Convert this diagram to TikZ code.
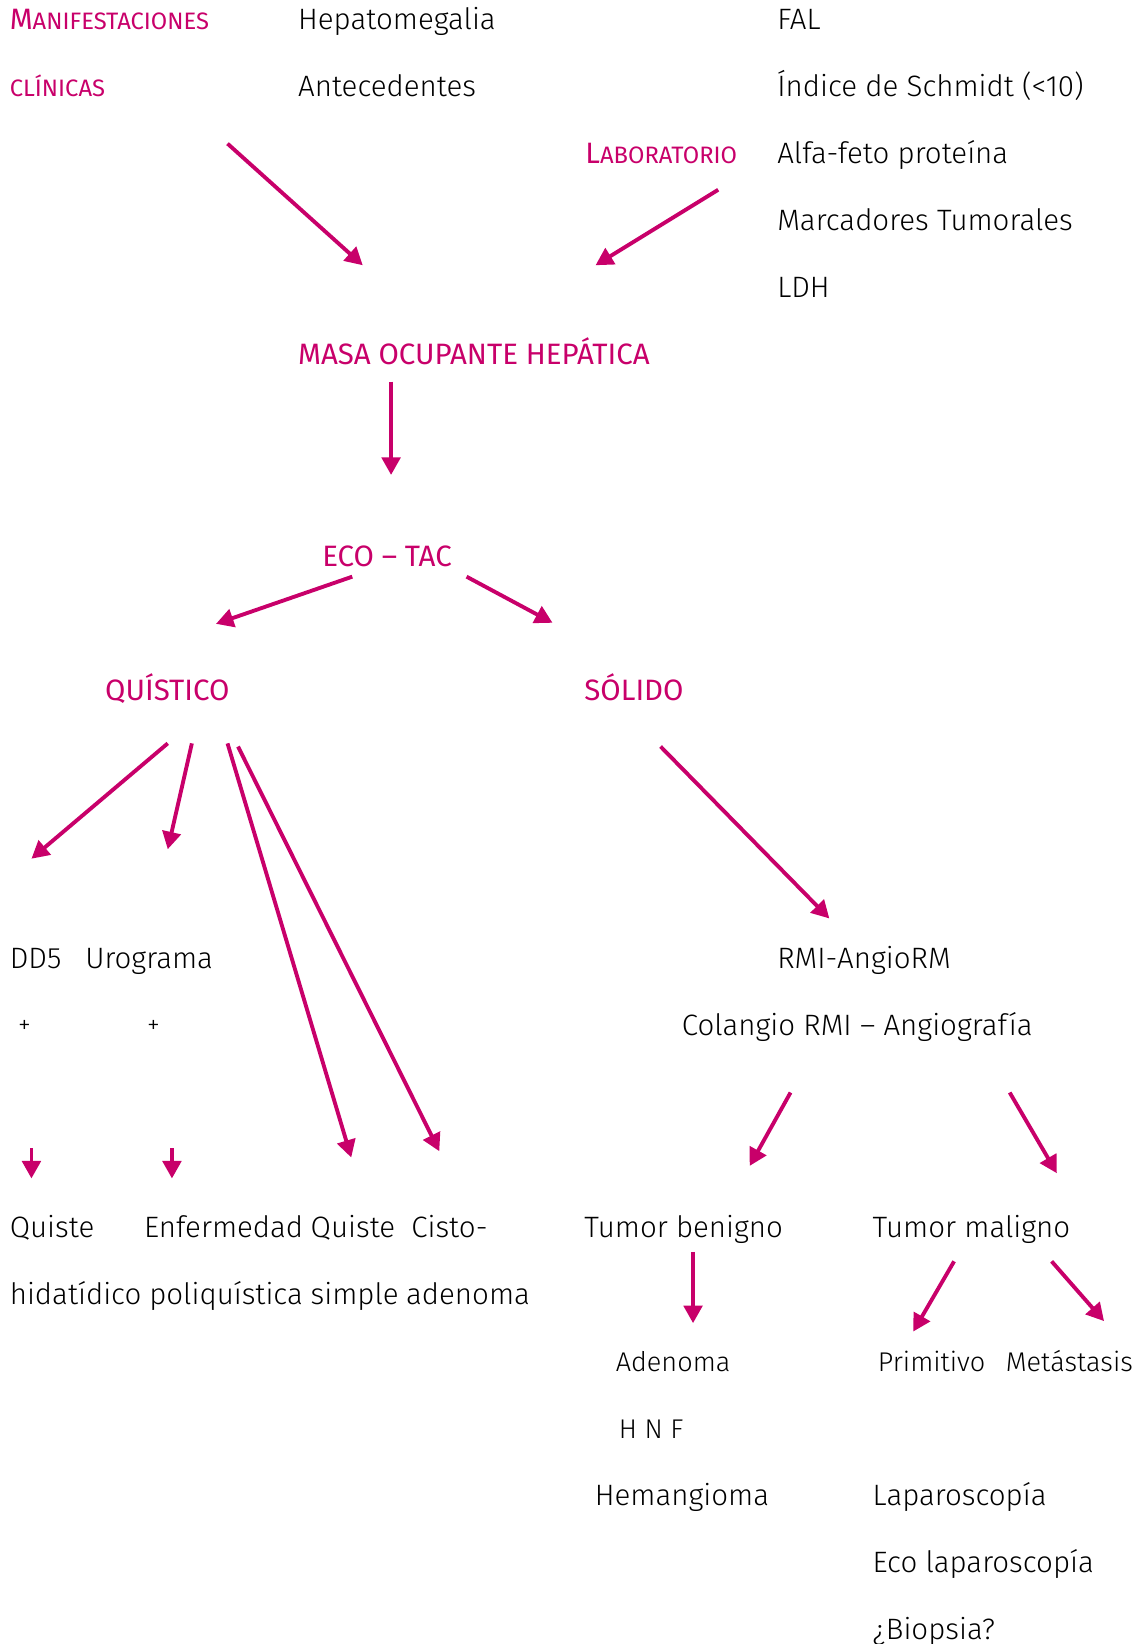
\documentclass[tikz,border=0pt]{standalone}
\usepackage{fontspec}
\setmainfont{Fira Sans Light}
\newfontfamily\firareg{Fira Sans}
\usetikzlibrary{arrows.meta}
\definecolor{mMag}{HTML}{C8006A}

\newcommand{\tam}{\fontsize{16pt}{18pt}\selectfont}
\newcommand{\pc}[1]{{\fontsize{12.9pt}{15pt}\selectfont #1}}

\begin{document}
\begin{tikzpicture}[x=0.02cm, y=-0.02cm, font=\tam,
    txt/.style={anchor=base west, inner sep=0pt},
    rosa/.style={txt, text=mMag, font=\tam\firareg},
    peq/.style={txt, font=\fontsize{14.7pt}{17pt}\selectfont},
    signo/.style={txt, font=\fontsize{14pt}{16pt}\selectfont},
    flecha/.style={draw=mMag, line width=2.1pt, -{Triangle[length=9.5pt, width=10pt]}}]
  \useasboundingbox (0,0) rectangle (1085,1568);

  % cabecera
  \node[rosa] (manif) at (9,28) {M\pc{ANIFESTACIONES}};
  \node[rosa] (clin) at (9,92) {\pc{CLÍNICAS}};
  \node[rosa] (lab) at (558,156) {L\pc{ABORATORIO}};
  \node[txt] (hepa) at (284,28) {Hepatomegalia};
  \node[txt] (ante) at (284,92) {Antecedentes};
  \foreach \t [count=\i from 0] in
    {FAL, Índice de Schmidt (<10), Alfa-feto proteína, Marcadores Tumorales, LDH} {
    \node[txt] (prueba\i) at (741,28+64*\i) {\t};
  }

  \node[rosa] (masa) at (284,348) {MASA OCUPANTE HEPÁTICA};
  \node[rosa] (eco) at (307,540) {ECO – TAC};
  \node[rosa] (quis) at (100,668) {QUÍSTICO};
  \node[rosa] (soli) at (557,668) {SÓLIDO};

  % rama quistica
  \node[txt] (dd5) at (9,924) {DD5};
  \node[txt] (urog) at (81,924) {Urograma};
  \node[signo] (mas1) at (17,986) {+};
  \node[signo] (mas2) at (140,986) {+};
  \node[txt] (hida1) at (9,1180) {Quiste};
  \node[txt] (hida2) at (9,1244) {hidatídico};
  \node[txt] (poli1) at (137,1180) {Enfermedad};
  \node[txt] (poli2) at (142,1244) {poliquística};
  \node[txt] (simp1) at (296,1180) {Quiste};
  \node[txt] (simp2) at (296,1244) {simple};
  \node[txt] (cist1) at (392,1180) {Cisto-};
  \node[txt] (cist2) at (387,1244) {adenoma};

  % rama solida
  \node[txt] (rmi) at (741,924) {RMI-AngioRM};
  \node[txt] (cola) at (650,988) {Colangio RMI – Angiografía};
  \node[txt] (beni) at (557,1180) {Tumor benigno};
  \node[txt] (mali) at (832,1180) {Tumor maligno};
  \node[peq] (aden) at (587,1308) {Adenoma};
  \node[peq] (hnf) at (590,1372) {H N F};
  \node[txt] (hema) at (567,1436) {Hemangioma};
  \node[peq] (prim) at (837,1308) {Primitivo};
  \node[peq] (meta) at (959,1308) {Metástasis};
  \foreach \t [count=\i from 0] in {Laparoscopía, Eco laparoscopía, ¿Biopsia?} {
    \node[txt] (expl\i) at (832,1436+64*\i) {\t};
  }

  % extremos de las flechas
  \foreach \n/\x/\y in {clinA/217/137, clinB/346/253, labA/685/181, labB/568/253,
      masaA/373/364, masaB/373/453, ecoA/336/550, ecoB/206/595, ecoC/445/550, ecoD/527/594,
      qA/160/709, qB/30/819, qC/183/709, qD/160/810, qE/217/709, qF/335/1104,
      qG/227/712, qH/419/1098, sA/630/712, sB/791/876, rA/754/1042, rB/715/1112,
      rC/963/1042, rD/1008/1119, dA/30/1095, dB/30/1124, uA/164/1095, uB/164/1124,
      bA/661/1194, bB/661/1262, mA/910/1203, mB/871/1270, mC/1003/1203, mD/1053/1260} {
    \coordinate (\n) at (\x,\y);
  }
  \foreach \s/\e in {clinA/clinB, labA/labB, masaA/masaB, ecoA/ecoB, ecoC/ecoD,
      qA/qB, qC/qD, qE/qF, qG/qH, sA/sB, rA/rB, rC/rD, dA/dB, uA/uB, bA/bB, mA/mB, mC/mD} {
    \draw[flecha] (\s) -- (\e);
  }
\end{tikzpicture}
\end{document}
